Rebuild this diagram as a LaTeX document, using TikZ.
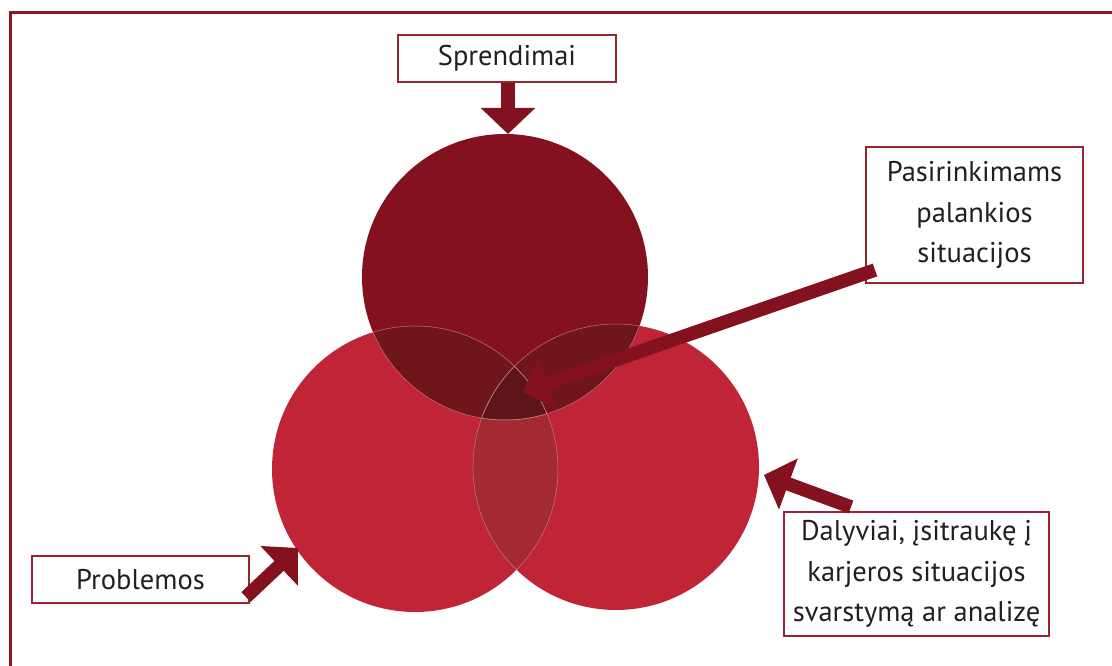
\documentclass[tikz,border=0pt]{standalone}
\usepackage{fontspec}
\setmainfont{PT Sans}
\usetikzlibrary{arrows.meta}

\definecolor{framered}{HTML}{8A1526}
\definecolor{boxred}{HTML}{9A2532}
\definecolor{arrowred}{HTML}{84111E}
\definecolor{topfill}{HTML}{84111E}
\definecolor{sidefill}{HTML}{C02537}
\definecolor{topside}{HTML}{6F161B}
\definecolor{triple}{HTML}{5C161A}
\definecolor{sideside}{HTML}{A32A33}
\definecolor{rimline}{HTML}{D9959B}
\definecolor{inktext}{HTML}{231F20}

\tikzset{
  labelbox/.style={draw=boxred, line width=1.6pt, fill=white, text=inktext,
    inner sep=0pt, align=center, font={\fontsize{28.5}{40.5}\selectfont}},
  blockarrow/.style={draw=arrowred, line width=13.5pt,
    -{Triangle[width=53pt,length=26pt]}},
  rim/.style={draw=rimline, line width=0.5pt, draw opacity=0.7}
}

\begin{document}
\begin{tikzpicture}[x=1pt,y=-1pt]
\useasboundingbox (0,0) rectangle (1112,666);

% outer frame, running off the right and bottom edges
\draw[framered, line width=3pt] (10,13) rectangle (1130,690);

% circle centres
\coordinate (cT) at (505,277);
\coordinate (cL) at (415,469);
\coordinate (cR) at (616,467);
\def\rad{143}

% base discs
\fill[topfill] (cT) circle (\rad);
\fill[sidefill] (cL) circle (\rad);
\fill[sidefill] (cR) circle (\rad);

% pairwise overlaps
\begin{scope}
  \clip (cL) circle (\rad);
  \fill[sideside] (cR) circle (\rad);
\end{scope}
\begin{scope}
  \clip (cT) circle (\rad);
  \fill[topside] (cL) circle (\rad);
  \fill[topside] (cR) circle (\rad);
\end{scope}
% common region of all three
\begin{scope}
  \clip (cT) circle (\rad);
  \clip (cL) circle (\rad);
  \fill[triple] (cR) circle (\rad);
\end{scope}

% faint rims where the discs overlap
\begin{scope}
  \clip (cT) circle (\rad);
  \draw[rim] (cL) circle (\rad);
  \draw[rim] (cR) circle (\rad);
\end{scope}
\begin{scope}
  \clip (cL) circle (\rad);
  \draw[rim] (cT) circle (\rad);
  \draw[rim] (cR) circle (\rad);
\end{scope}
\begin{scope}
  \clip (cR) circle (\rad);
  \draw[rim] (cT) circle (\rad);
  \draw[rim] (cL) circle (\rad);
\end{scope}

% label boxes
\node[labelbox, minimum width=218pt, minimum height=47pt] (spr) at (507,58.5) {Sprendimai};
\node[labelbox, minimum width=217pt, minimum height=136pt] (pas) at (974.5,215)
  {Pasirinkimams\\palankios\\situacijos};
\node[labelbox, minimum width=217pt, minimum height=47pt] (prob) at (140.5,579.5) {Problemos};
\node[labelbox, minimum width=265pt, minimum height=124pt] (dal) at (916.5,574)
  {Dalyviai, įsitraukę į\\karjeros situacijos\\svarstymą ar analizę};

% arrow tips and tails
\coordinate (tipT) at (508,134);
\coordinate (tipP) at (523,392);
\coordinate (tailP) at (875,270);
\coordinate (tipL) at (298,548);
\coordinate (tailL) at (246,597);
\coordinate (tipR) at (764,475);
\coordinate (tailR) at (851,507);

% block arrows
\draw[blockarrow] (spr.south -| tipT) -- (tipT);
\draw[blockarrow] (tailP) -- (tipP);
\draw[blockarrow] (tailL) -- (tipL);
\draw[blockarrow] (tailR) -- (tipR);
\end{tikzpicture}
\end{document}
